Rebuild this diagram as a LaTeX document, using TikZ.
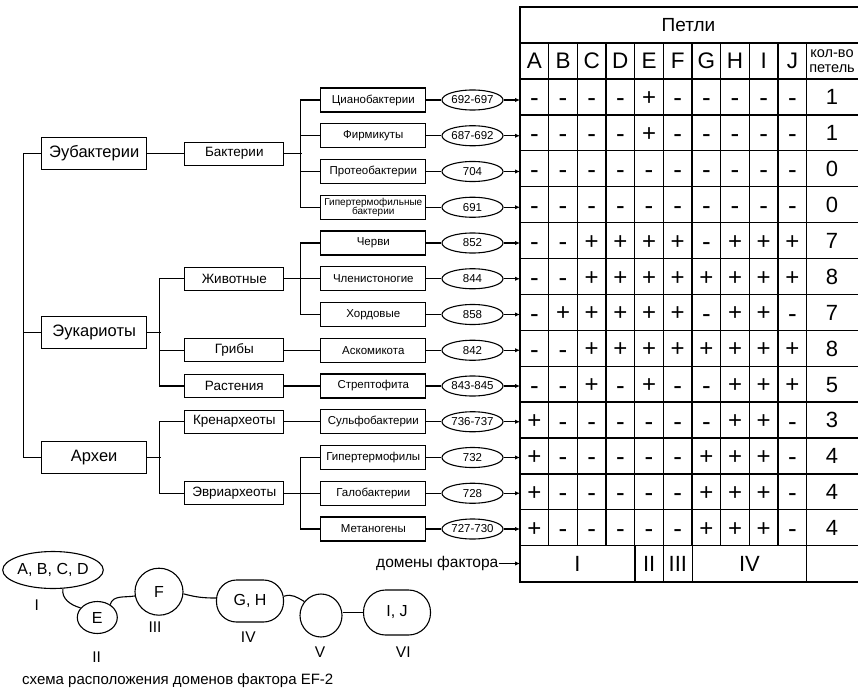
\documentclass[tikz,border=0pt]{standalone}
\usepackage{fontspec}
\setmainfont{Liberation Sans}
\usetikzlibrary{shapes.geometric,arrows.meta,calc}
\newcommand\myfs[1]{\fontsize{#1}{#1}\selectfont}
\begin{document}
\begin{tikzpicture}[x=1pt,y=-1pt,
  ln/.style={line width=1.1pt},
  tab/.style={line width=1.3pt},
  box1/.style={draw,line width=1.1pt,minimum width=105pt,minimum height=32pt,inner sep=0pt,font=\myfs{16.5}},
  box2/.style={draw,line width=1.1pt,minimum width=99pt,minimum height=23pt,inner sep=0pt,font=\myfs{13.5}},
  box3/.style={draw,line width=1.1pt,minimum width=105pt,minimum height=24pt,inner sep=0pt,font=\myfs{11.5}},
  num/.style={draw,ellipse,line width=1.1pt,minimum width=61pt,minimum height=20pt,inner sep=0pt,font=\myfs{11.5}},
  arr/.style={line width=1.1pt,-{Latex[length=5pt,width=4.5pt]}},
  cell/.style={inner sep=0pt},
  dom/.style={draw,line width=1.1pt,inner sep=0pt,font=\myfs{16}},
  lbl/.style={inner sep=0pt,font=\myfs{15.5}}
]
\useasboundingbox (0,0) rectangle (858,687);

% ---------- level 3 ----------
\node[box3] (t1)  at (373.3,100)    {Цианобактерии};
\node[box3] (t2)  at (373.3,135.75) {Фирмикуты};
\node[box3] (t3)  at (373.3,171.5)  {Протеобактерии};
\node[box3,align=center,font=\myfs{10}] (t4) at (373.3,207.25) {Гипертермофильные\\[-1pt]бактерии};
\node[box3] (t5)  at (373.3,243)    {Черви};
\node[box3] (t6)  at (373.3,278.75) {Членистоногие};
\node[box3] (t7)  at (373.3,314.5)  {Хордовые};
\node[box3] (t8)  at (373.3,350.25) {Аскомикота};
\node[box3] (t9)  at (373.3,386)    {Стрептофита};
\node[box3] (t10) at (373.3,421.75) {Сульфобактерии};
\node[box3] (t11) at (373.3,457.5)  {Гипертермофилы};
\node[box3] (t12) at (373.3,493.25) {Галобактерии};
\node[box3] (t13) at (373.3,529)    {Метаногены};

% ---------- numbers ----------
\node[num] (n1)  at (472.5,100)    {692-697};
\node[num] (n2)  at (472.5,135.75) {687-692};
\node[num] (n3)  at (472.5,171.5)  {704};
\node[num] (n4)  at (472.5,207.25) {691};
\node[num] (n5)  at (472.5,243)    {852};
\node[num] (n6)  at (472.5,278.75) {844};
\node[num] (n7)  at (472.5,314.5)  {858};
\node[num] (n8)  at (472.5,350.25) {842};
\node[num] (n9)  at (472.5,386)    {843-845};
\node[num] (n10) at (472.5,421.75) {736-737};
\node[num] (n11) at (472.5,457.5)  {732};
\node[num] (n12) at (472.5,493.25) {728};
\node[num] (n13) at (472.5,529)    {727-730};

% ---------- level 2 ----------
\node[box2] (bact)  at (234.3,153.6)  {Бактерии};
\node[box2] (anim)  at (234.3,278.75) {Животные};
\node[box2] (fungi) at (234.3,350.25) {Грибы};
\node[box2] (plant) at (234.3,386)    {Растения};
\node[box2] (cren)  at (234.3,421.75) {Кренархеоты};
\node[box2] (eury)  at (234.3,493.25) {Эвриархеоты};

% ---------- level 1 ----------
\node[box1] (eub)  at (94.2,153.6) {Эубактерии};
\node[box1] (euk)  at (94.2,332.4) {Эукариоты};
\node[box1] (arch) at (94.2,457.5) {Археи};

% ---------- tree connectors ----------
\draw[ln] (eub.east) -- (bact.west);
\draw[ln] (eub.west) -- ++(-17.7,0) |- (arch.west);
\draw[ln] (euk.west) -- ++(-17.7,0);
\draw[ln] (euk.east) -- ++(13.3,0);
\draw[ln] (anim.west) -- ++(-25,0) |- (plant.west);
\draw[ln] (fungi.west) -- ++(-25,0);
\draw[ln] (arch.east) -- ++(13.3,0);
\draw[ln] (cren.west) -- ++(-25,0) |- (eury.west);
\draw[ln] (bact.east) -- ++(17.3,0);
\draw[ln] (t1.west) -- ++(-20,0) |- (t4.west);
\draw[ln] (t2.west) -- ++(-20,0);
\draw[ln] (t3.west) -- ++(-20,0);
\draw[ln] (anim.east) -- ++(17.3,0);
\draw[ln] (t5.west) -- ++(-20,0) |- (t7.west);
\draw[ln] (t6.west) -- ++(-20,0);
\draw[ln] (fungi.east) -- (t8.west);
\draw[ln] (plant.east) -- (t9.west);
\draw[ln] (cren.east) -- (t10.west);
\draw[ln] (eury.east) -- ++(17.3,0);
\draw[ln] (t11.west) -- ++(-20,0) |- (t13.west);
\draw[ln] (t12.west) -- ++(-20,0);

\coordinate (tl) at (520,7);
\foreach \i in {1,...,13} {
  \draw[ln] (t\i.east) -- (n\i.west);
  \draw[arr] (n\i.east) -- (n\i.east -| tl);
}

% ---------- table ----------
\draw[tab] (520,7) rectangle (859,582);
\draw[tab] (520,43) -- (859,43);
\draw[tab] (520,79) -- (859,79);
\foreach \k in {1,...,13} \draw[tab] (520,{79+35.9*\k}) -- (859,{79+35.9*\k});
\foreach \k in {1,...,10} \draw[tab] ({520+28.67*\k},43) -- ({520+28.67*\k},545.7);
\foreach \xx in {635,663.3,692.3,806.7} \draw[tab] (\xx,545.7) -- (\xx,582);

\node[inner sep=0pt,font=\myfs{19}] (hdr) at (688.5,25) {Петли};
\foreach \L [count=\j] in {A,B,C,D,E,F,G,H,I,J}
  \node[inner sep=0pt,font=\myfs{22.5}] (h\j) at ({520+28.67*(\j-0.5)},61) {\L};
\node[inner sep=0pt,font=\myfs{14.5},align=center] (hk) at (832,61) {кол-во\\[0pt]петель};

\foreach \r [count=\i] in {
 {-,-,-,-,+,-,-,-,-,-,1},
 {-,-,-,-,+,-,-,-,-,-,1},
 {-,-,-,-,-,-,-,-,-,-,0},
 {-,-,-,-,-,-,-,-,-,-,0},
 {-,-,+,+,+,+,-,+,+,+,7},
 {-,-,+,+,+,+,+,+,+,+,8},
 {-,+,+,+,+,+,-,+,+,-,7},
 {-,-,+,+,+,+,+,+,+,+,8},
 {-,-,+,-,+,-,-,+,+,+,5},
 {+,-,-,-,-,-,-,+,+,-,3},
 {+,-,-,-,-,-,+,+,+,-,4},
 {+,-,-,-,-,-,+,+,+,-,4},
 {+,-,-,-,-,-,+,+,+,-,4}} {
  \foreach \v [count=\j] in \r {
    \pgfmathsetmacro\xx{\j<11 ? 520+28.67*(\j-0.5) : 832}
    \pgfmathsetmacro\yy{79+35.9*(\i-0.5)}
    \ifnum\j<11
      \if\v+
        \node[cell,font=\myfs{24},anchor=base] (c-\i-\j) at (\xx,{\yy+8.6}) {+};
      \else
        \node[cell,font=\myfs{26},anchor=base] (c-\i-\j) at (\xx,{\yy+10}) {-};
      \fi
    \else
      \node[cell,font=\myfs{22},anchor=base] (c-\i-\j) at (\xx,{\yy+7.9}) {\v};
    \fi
  }
}

\node[inner sep=0pt,font=\myfs{22}] (dI)   at (577.5,563.8) {I};
\node[inner sep=0pt,font=\myfs{22}] (dII)  at (649.2,563.8) {II};
\node[inner sep=0pt,font=\myfs{22}] (dIII) at (677.8,563.8) {III};
\node[inner sep=0pt,font=\myfs{22}] (dIV)  at (749.5,563.8) {IV};

\node[inner sep=0pt,anchor=east,font=\myfs{15.5}] (domf) at (498.5,563.5) {домены фактора};
\draw[arr] (domf.east) -- (domf.east -| tl);

% ---------- domain scheme ----------
\node[dom,ellipse,minimum width=87pt,minimum height=37pt] (abcd) at (53,570) {A, B, C, D};
\node[dom,ellipse,minimum width=40pt,minimum height=32pt] (dE) at (97.3,617.5) {E};
\node[dom,ellipse,minimum width=48pt,minimum height=47pt] (dF) at (159,591.7) {F};
\node[dom,rectangle,rounded corners=20pt,minimum width=67pt,minimum height=42pt] (dGH) at (250,601) {G, H};
\node[dom,ellipse,minimum width=42pt,minimum height=43pt] (dV) at (321,615.5) {};
\node[dom,rectangle,rounded corners=22pt,minimum width=67pt,minimum height=45pt] (dIJ) at (397,612.5) {I, J};

\draw[ln] (abcd.-62) to[out=-100,in=165] (dE.150);
\draw[ln] (dE.45) to[out=75,in=190] (dF.190);
\draw[ln] (dF.-5) to[out=-15,in=180] (dGH.175);
\draw[ln] (dGH.8) to[out=20,in=150] (dV.140);
\draw[ln] (dIJ.west) -- (dIJ.west -| dV.east);

\node[lbl] (lI)   at (36.7,605)   {I};
\node[lbl] (lII)  at (96.7,656.7) {II};
\node[lbl] (lIII) at (155,626.7)  {III};
\node[lbl] (lIV)  at (248.3,636.7) {IV};
\node[lbl] (lV)   at (320,651.7)  {V};
\node[lbl] (lVI)  at (403.3,651.7) {VI};

\node[inner sep=0pt,anchor=west,font=\myfs{15}] (cap) at (22,681) {схема расположения доменов фактора EF-2};
\end{tikzpicture}
\end{document}
